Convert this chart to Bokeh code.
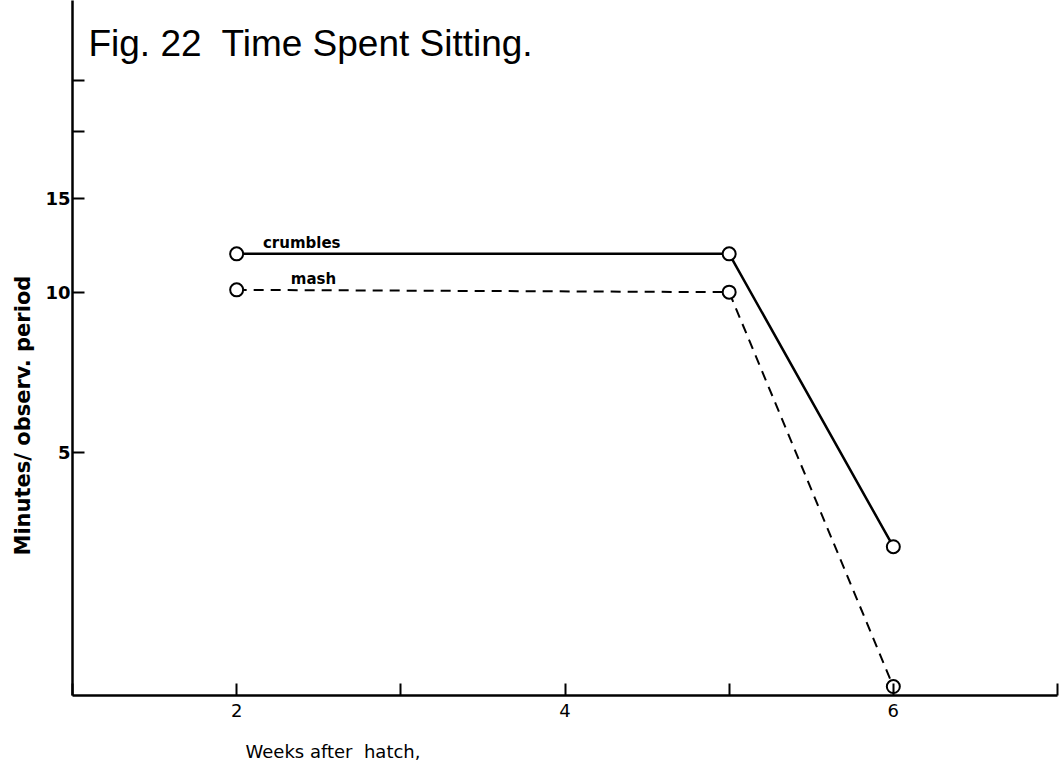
from bokeh.plotting import figure
from bokeh.models import Range1d, FixedTicker, Label, ColumnDataSource, Title
from bokeh.embed import file_html
from bokeh.resources import INLINE

# ---- data ----
weeks = [2, 5, 6]
crumbles = [11.8, 11.8, 3.33]
mash = [10.1, 10.0, 1.82]
x_ticks = [1, 2, 3, 4, 5, 6, 7]
x_tick_labels = {1: "", 2: "2", 3: "", 4: "4", 5: "", 6: "6", 7: ""}
y_ticks = [5, 10, 15, 20, 25]
y_tick_labels = {5: "5", 10: "10", 15: "15", 20: "", 25: ""}

title_text = "Fig. 22\u00a0 Time Spent Sitting."
x_title = "Weeks after\u00a0 hatch,"
y_title = "Minutes/ observ. period"

p = figure(width=1060, height=781, output_backend="svg", toolbar_location=None,
           x_range=Range1d(1, 7), y_range=Range1d(1.751, 35.25),
           y_axis_type="log",
           min_border_left=72, min_border_right=3, min_border_top=0,
           min_border_bottom=86)
p.outline_line_color = None
p.xgrid.visible = False
p.ygrid.visible = False
p.background_fill_color = "white"
p.border_fill_color = "white"

for ax in (p.xaxis[0], p.yaxis[0]):
    ax.axis_line_width = 2.5
    ax.axis_line_color = "black"
    ax.major_tick_line_width = 2
    ax.major_tick_line_color = "black"
    ax.minor_tick_line_color = None
    ax.major_tick_out = 0
    ax.major_tick_in = 12
    ax.major_label_text_color = "black"
    ax.major_label_text_font = "DejaVu Sans"

p.xaxis.ticker = FixedTicker(ticks=x_ticks)
p.xaxis.major_label_overrides = x_tick_labels
p.xaxis.major_label_text_font_size = "18px"
p.xaxis.major_label_standoff = 8

p.yaxis.ticker = FixedTicker(ticks=y_ticks)
p.yaxis.major_label_overrides = y_tick_labels
p.yaxis.major_label_text_font_size = "18px"
p.yaxis.major_label_text_font_style = "bold"
p.yaxis.major_label_standoff = 2

src_c = ColumnDataSource(dict(x=weeks, y=crumbles))
src_m = ColumnDataSource(dict(x=weeks, y=mash))

p.line("x", "y", source=src_c, line_color="black", line_width=2.5)
p.line("x", "y", source=src_m, line_color="black", line_width=2, line_dash="10 7")
p.scatter("x", "y", source=src_c, marker="circle", size=13, fill_color="white",
          line_color="black", line_width=2)
p.scatter("x", "y", source=src_m, marker="circle", size=13, fill_color="white",
          line_color="black", line_width=2)

p.add_layout(Label(x=2.16, y=crumbles[0], y_offset=2, text="crumbles",
                   text_font="DejaVu Sans", text_font_size="15px",
                   text_font_style="bold", text_baseline="bottom",
                   text_color="black"))
p.add_layout(Label(x=2.33, y=mash[0], y_offset=2, text="mash",
                   text_font="DejaVu Sans", text_font_size="15px",
                   text_font_style="bold", text_baseline="bottom",
                   text_color="black"))

p.add_layout(Label(x=1.097, y=32.0, text=title_text,
                   text_font="Liberation Sans",
                   text_font_size="37px", text_baseline="top",
                   text_color="black"))

p.add_layout(Title(text=x_title, align="left", offset=173,
                   text_font="DejaVu Sans", text_font_size="18px",
                   text_font_style="normal", text_color="black",
                   standoff=39), "below")
p.add_layout(Title(text=y_title, align="left", offset=140,
                   text_font="DejaVu Sans", text_font_size="21px",
                   text_font_style="bold", text_color="black",
                   standoff=15), "left")

open("out.html", "w").write(file_html(p, INLINE))
